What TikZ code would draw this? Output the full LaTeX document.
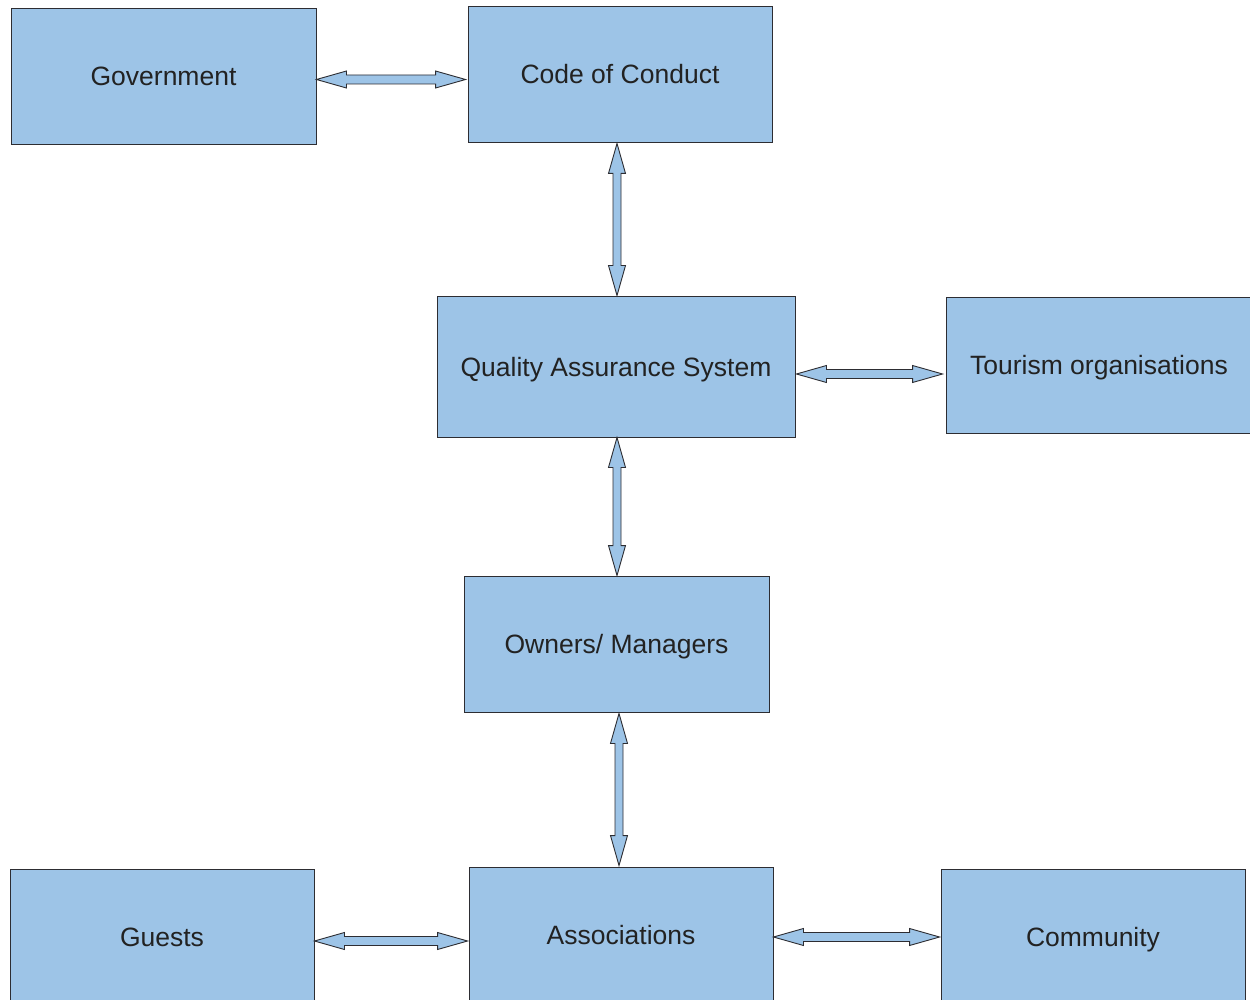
\documentclass[tikz,border=0pt]{standalone}
\usepackage{fontspec}
\setmainfont{Liberation Sans}
\usetikzlibrary{calc}
\definecolor{boxblue}{RGB}{157,196,231}
\definecolor{edgegray}{RGB}{45,45,50}
\definecolor{textgray}{RGB}{34,34,34}
\tikzset{
  box/.style={rectangle, draw=edgegray, fill=boxblue, line width=0.9pt,
    minimum width=305pt, minimum height=136pt, inner sep=0pt,
    text height=19pt, text depth=0pt,
    text=textgray, font=\fontsize{26.5}{30}\selectfont},
  conn/.style={draw=edgegray, fill=boxblue, line width=0.9pt, line join=miter},
}
% double-headed block arrow, horizontal (left end, right end)
\newcommand\dblH[2]{%
  \filldraw[conn] let \p1=(#1), \p2=(#2) in
    (\x1,\y1) -- (\x1+30pt,\y1+8.5pt) -- (\x1+30pt,\y1+4.5pt)
    -- (\x2-30pt,\y1+4.5pt) -- (\x2-30pt,\y1+8.5pt) -- (\x2,\y1)
    -- (\x2-30pt,\y1-8.5pt) -- (\x2-30pt,\y1-4.5pt)
    -- (\x1+30pt,\y1-4.5pt) -- (\x1+30pt,\y1-8.5pt) -- cycle;}
% double-headed block arrow, vertical (top end, bottom end)
\newcommand\dblV[2]{%
  \filldraw[conn] let \p1=(#1), \p2=(#2) in
    (\x1,\y1) -- (\x1+8.5pt,\y1-30pt) -- (\x1+4pt,\y1-30pt)
    -- (\x1+4pt,\y2+30pt) -- (\x1+8.5pt,\y2+30pt) -- (\x1,\y2)
    -- (\x1-8.5pt,\y2+30pt) -- (\x1-4pt,\y2+30pt)
    -- (\x1-4pt,\y1-30pt) -- (\x1-8.5pt,\y1-30pt) -- cycle;}
\begin{document}
\begin{tikzpicture}[x=1pt,y=-1pt]
  \useasboundingbox (0,0) rectangle (1250,1000);
  \clip (0,0) rectangle (1250,1000);
  \fill[white] (0,0) rectangle (1250,1000);

  \node[box] (gov) at (163.5,76) {Government};
  \node[box, minimum width=304pt] (coc) at (620,74) {Code of Conduct};
  \node[box, minimum width=358pt, minimum height=141pt] (qas) at (616,366.5) {Quality Assurance System};
  \node[box, minimum width=306pt] (tour) at (1099,365) {Tourism organisations};
  \node[box] (own) at (616.5,644) {Owners/ Managers};
  \node[box, minimum width=304pt] (guests) at (162,937) {Guests};
  \node[box, minimum width=304pt] (assoc) at (621,935) {Associations};
  \node[box, minimum width=304pt] (comm) at (1093,937) {Community};

  \dblH{$(gov.east)+(0,3.5)$}{$(coc.west)+(-2,0)$}
  \dblV{$(coc.south)+(-3,1)$}{qas.north}
  \dblH{$(qas.east)+(1,7.5)$}{$(tour.west)+(-3,0)$}
  \dblV{$(qas.south)+(1,0)$}{own.north}
  \dblV{$(own.south)+(2.5,1)$}{$(assoc.north)+(0,-1)$}
  \dblH{$(guests.east)+(0,4)$}{$(assoc.west)+(-1,0)$}
  \dblH{$(assoc.east)+(0,2)$}{$(comm.west)+(-1,0)$}
\end{tikzpicture}
\end{document}
